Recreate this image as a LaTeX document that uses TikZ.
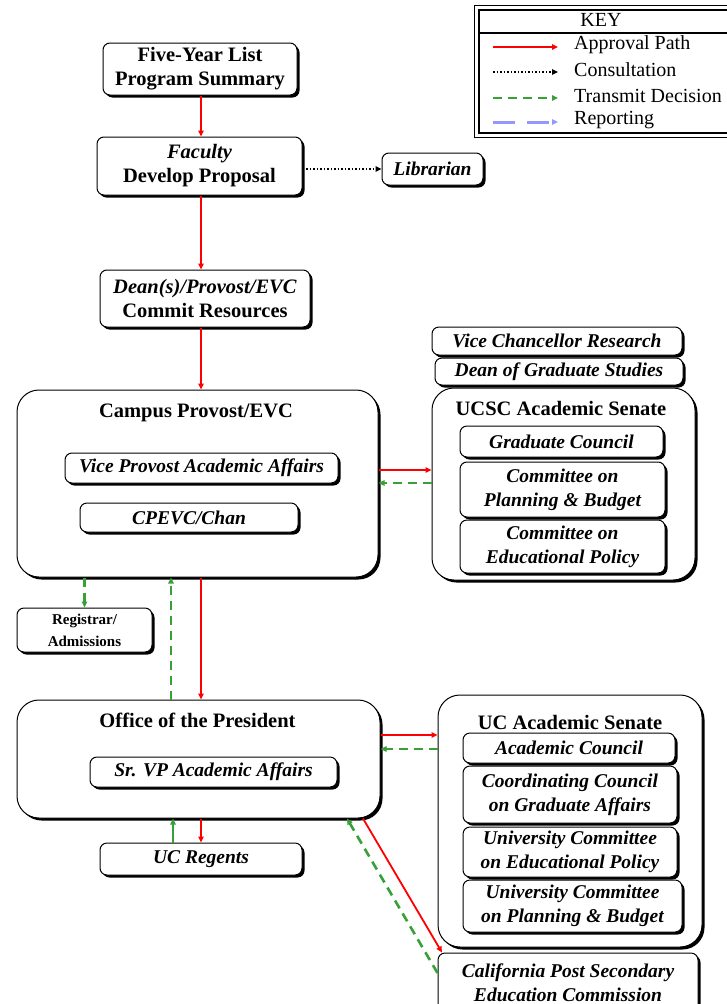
\documentclass[tikz,border=0pt]{standalone}
\usepackage{fontspec}
\setmainfont{Liberation Serif}
\usetikzlibrary{shadows,arrows.meta,calc}
\definecolor{tgreen}{RGB}{55,160,55}
\definecolor{rblue}{RGB}{150,150,255}
\newcommand\mfnt{\fontsize{20.5}{24}\selectfont\bfseries}
\newcommand\ifnt{\fontsize{19.5}{24}\selectfont\bfseries\itshape}
\newcommand\sfnt{\fontsize{15}{22}\selectfont\bfseries}
\newcommand\kfnt{\fontsize{20}{22}\selectfont}
\begin{document}
\begin{tikzpicture}[x=1pt,y=-1pt,
  box/.style={draw=black, line width=1pt, fill=white, rounded corners=7pt,
    drop shadow={shadow xshift=2.5pt,shadow yshift=-2.5pt,fill=black,opacity=1},
    inner sep=0pt, align=center, font=\mfnt},
  ibox/.style={box, font=\ifnt},
  bigbox/.style={box, rounded corners=22pt},
  title/.style={font=\mfnt, inner sep=0pt},
  tip/.style={-{Triangle[length=6pt,width=5.5pt]}},
  appr/.style={draw=red, line width=1.8pt, tip},
  cons/.style={draw=black, line width=1.5pt, dotted, tip},
  trans/.style={draw=tgreen, line width=2.6pt, dash pattern=on 9pt off 6pt, tip},
  repo/.style={draw=rblue, line width=3pt, dash pattern=on 22pt off 12pt, tip},
]
\useasboundingbox (0,0) rectangle (727,1004);
\fill[white] (0,0) rectangle (727,1004);

% key
\draw[line width=0.8pt] (474,5) rectangle (745,137);
\draw[line width=2.5pt] (479,10) rectangle (745,133);
\draw[line width=1.6pt] (479,33) -- (745,33);
\node[font=\kfnt, inner sep=0pt] (keyT) at (601,20) {KEY};
\node[font=\kfnt, inner sep=0pt, anchor=west] (k1) at (574,45) {Approval Path};
\node[font=\kfnt, inner sep=0pt, anchor=west] (k2) at (574,70) {Consultation};
\node[font=\kfnt, inner sep=0pt, anchor=west] (k3) at (574,96) {Transmit Decision};
\node[font=\kfnt, inner sep=0pt, anchor=west] (k4) at (574,120) {Reporting};
\coordinate (k1a) at (493,47); \coordinate (k1b) at (558,47);
\coordinate (k2a) at (493,72); \coordinate (k2b) at (558,72);
\coordinate (k3a) at (493,98); \coordinate (k3b) at (558,98);
\coordinate (k4a) at (493,122); \coordinate (k4b) at (558,122);
\draw[appr] (k1a) -- (k1b);
\draw[cons, line width=1.2pt] (k2a) -- (k2b);
\draw[trans] (k3a) -- (k3b);
\draw[repo] (k4a) -- (k4b);

% top chain
\node[box, minimum width=194, minimum height=52] (five) at (200,69) {Five-Year List\\Program Summary};
\node[box, minimum width=205, minimum height=58] (faculty) at (199.5,166) {\textit{Faculty}\\Develop Proposal};
\node[ibox, minimum width=101, minimum height=32] (lib) at (432.5,169) {Librarian};
\node[box, minimum width=210, minimum height=57] (dean) at (205,298.5) {\textit{Dean(s)/Provost/EVC}\\Commit Resources};

% campus provost
\node[bigbox, minimum width=361, minimum height=187] (campus) at (197.5,483.5) {};
\node[title] (campusT) at (196,413) {Campus Provost/EVC};
\node[ibox, minimum width=273, minimum height=30] (vpaa) at (201.5,468) {Vice Provost Academic Affairs};
\node[ibox, minimum width=218, minimum height=29] (cpevc) at (189,517.5) {CPEVC/Chan};

% UCSC senate side
\node[ibox, minimum width=250, minimum height=28] (vcr) at (557,341) {Vice Chancellor Research};
\node[ibox, minimum width=248, minimum height=27] (dgs) at (559,371.5) {Dean of Graduate Studies};
\node[bigbox, minimum width=263, minimum height=192] (ucsc) at (563.5,484) {};
\node[title] (ucscT) at (561,408) {UCSC Academic Senate};
\node[ibox, minimum width=203, minimum height=31] (gc) at (561.5,441.5) {Graduate Council};
\node[ibox, minimum width=205, minimum height=55] (cpb) at (562.5,489.5) {Committee on\\Planning \& Budget};
\node[ibox, minimum width=205, minimum height=53] (cep) at (562.5,546.5) {Committee on\\Educational Policy};

% registrar
\node[box, font=\sfnt, minimum width=135, minimum height=44] (reg) at (84.5,630) {Registrar/\\Admissions};

% office of the president
\node[bigbox, minimum width=363, minimum height=118] (office) at (198.5,759) {};
\node[title] (officeT) at (197.5,720) {Office of the President};
\node[ibox, minimum width=247, minimum height=30] (srvp) at (213.5,772) {Sr. VP Academic Affairs};
\node[ibox, minimum width=202, minimum height=32] (regents) at (201,859) {UC Regents};

% UC senate
\node[bigbox, minimum width=264, minimum height=252] (ucas) at (570,821) {};
\node[title] (ucasT) at (570,722) {UC Academic Senate};
\node[ibox, minimum width=212, minimum height=30] (ac) at (569,748) {Academic Council};
\node[ibox, minimum width=214, minimum height=57] (ccga) at (570,794.5) {Coordinating Council\\on Graduate Affairs};
\node[ibox, minimum width=214, minimum height=50] (ucep) at (570,852) {University Committee\\on Educational Policy};
\node[ibox, minimum width=219, minimum height=52] (ucpb) at (572.5,906) {University Committee\\on Planning \& Budget};
\node[ibox, minimum width=260, minimum height=59] (cpsec) at (568,982.5) {California Post Secondary\\Education Commission};

% helper coordinates
\coordinate (xa) at (201,0);
\coordinate (xg) at (171,0);
\coordinate (xr) at (173,0);
\coordinate (ya) at (0,470);
\coordinate (yb) at (0,483);
\coordinate (yc) at (0,735);
\coordinate (yd) at (0,749);
\coordinate (xd1) at (363,0);
\coordinate (xd2) at (347,0);
\coordinate (ye) at (0,973);
\coordinate (xe) at (442,0);

% connectors
\draw[appr] (five.south -| xa) -- (faculty.north -| xa);
\draw[cons] (faculty.east |- lib.west) -- (lib.west);
\draw[appr] (faculty.south -| xa) -- (dean.north -| xa);
\draw[appr] (dean.south -| xa) -- (campus.north -| xa);
\draw[appr] (campus.east |- ya) -- (ucsc.west |- ya);
\draw[trans] (ucsc.west |- yb) -- (campus.east |- yb);
\draw[trans] (campus.south -| reg.north) -- (reg.north);
\draw[trans] (office.north -| xg) -- (campus.south -| xg);
\draw[appr] (campus.south -| xa) -- (office.north -| xa);
\draw[appr] (office.east |- yc) -- (ucas.west |- yc);
\draw[trans] (ucas.west |- yd) -- (office.east |- yd);
\draw[appr] (office.south -| xa) -- (regents.north -| xa);
\draw[trans, dash pattern=, line width=1.8pt] (regents.north -| xr) -- (office.south -| xr);
\draw[appr] (office.south -| xd1) -- (cpsec.north -| xe);
\draw[trans] (cpsec.west |- ye) -- (office.south -| xd2);
\end{tikzpicture}
\end{document}
